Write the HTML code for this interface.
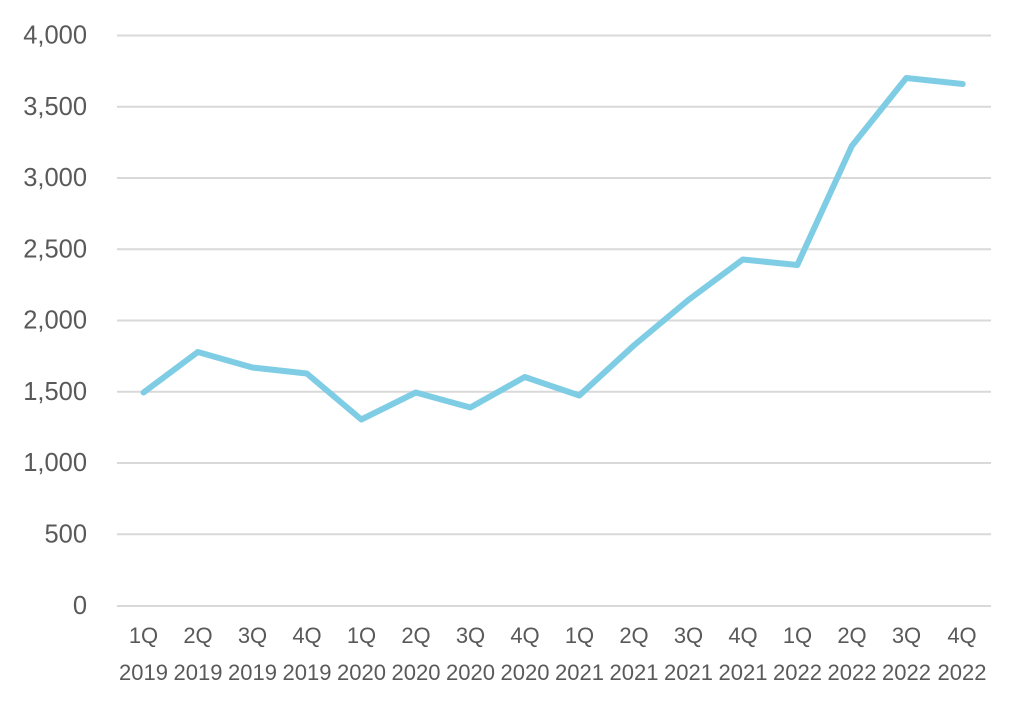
<!DOCTYPE html>
<html><head><meta charset="utf-8"><style>
html,body{margin:0;padding:0;background:#fff;}
svg{display:block;}
text{font-family:"Liberation Sans","Noto Sans CJK JP",sans-serif;fill:#595959;}
</style></head><body>
<svg width="1024" height="705" viewBox="0 0 1024 705" xmlns="http://www.w3.org/2000/svg">
<g stroke="#d9d9d9" stroke-width="2">
<line x1="117" y1="35.5" x2="991" y2="35.5"/>
<line x1="117" y1="106.8" x2="991" y2="106.8"/>
<line x1="117" y1="178" x2="991" y2="178"/>
<line x1="117" y1="249.3" x2="991" y2="249.3"/>
<line x1="117" y1="320.5" x2="991" y2="320.5"/>
<line x1="117" y1="391.8" x2="991" y2="391.8"/>
<line x1="117" y1="463" x2="991" y2="463"/>
<line x1="117" y1="534.3" x2="991" y2="534.3"/>
<line x1="117" y1="606" x2="991" y2="606"/>
</g>
<g font-size="25.5" text-anchor="end">
<text x="87" y="43.5">4,000</text>
<text x="87" y="114.8">3,500</text>
<text x="87" y="186">3,000</text>
<text x="87" y="257.3">2,500</text>
<text x="87" y="328.5">2,000</text>
<text x="87" y="399.8">1,500</text>
<text x="87" y="471">1,000</text>
<text x="87" y="542.3">500</text>
<text x="87" y="613.8">0</text>
</g>
<polyline fill="none" stroke="#7fcde4" stroke-width="6" stroke-linejoin="round" stroke-linecap="round"
points="143.5,392.5 197.8,352 252.3,367.5 306.8,373.5 361.3,419.5 415.8,392.5 470.3,407.5 524.8,377 579.3,395.5 633.8,345.5 688.3,300 742.8,259.5 797.3,265 851.8,146 906.3,78 962.7,84"/>
<g font-size="22" text-anchor="middle">
<text x="143.5" y="643">1Q</text><text x="143.5" y="680">2019</text>
<text x="198" y="643">2Q</text><text x="198" y="680">2019</text>
<text x="252.5" y="643">3Q</text><text x="252.5" y="680">2019</text>
<text x="307" y="643">4Q</text><text x="307" y="680">2019</text>
<text x="361.5" y="643">1Q</text><text x="361.5" y="680">2020</text>
<text x="416" y="643">2Q</text><text x="416" y="680">2020</text>
<text x="470.5" y="643">3Q</text><text x="470.5" y="680">2020</text>
<text x="525" y="643">4Q</text><text x="525" y="680">2020</text>
<text x="579.5" y="643">1Q</text><text x="579.5" y="680">2021</text>
<text x="634" y="643">2Q</text><text x="634" y="680">2021</text>
<text x="688.5" y="643">3Q</text><text x="688.5" y="680">2021</text>
<text x="743" y="643">4Q</text><text x="743" y="680">2021</text>
<text x="797.5" y="643">1Q</text><text x="797.5" y="680">2022</text>
<text x="852" y="643">2Q</text><text x="852" y="680">2022</text>
<text x="906.5" y="643">3Q</text><text x="906.5" y="680">2022</text>
<text x="962" y="643">4Q</text><text x="962" y="680">2022</text>
</g>
</svg>
</body></html>
